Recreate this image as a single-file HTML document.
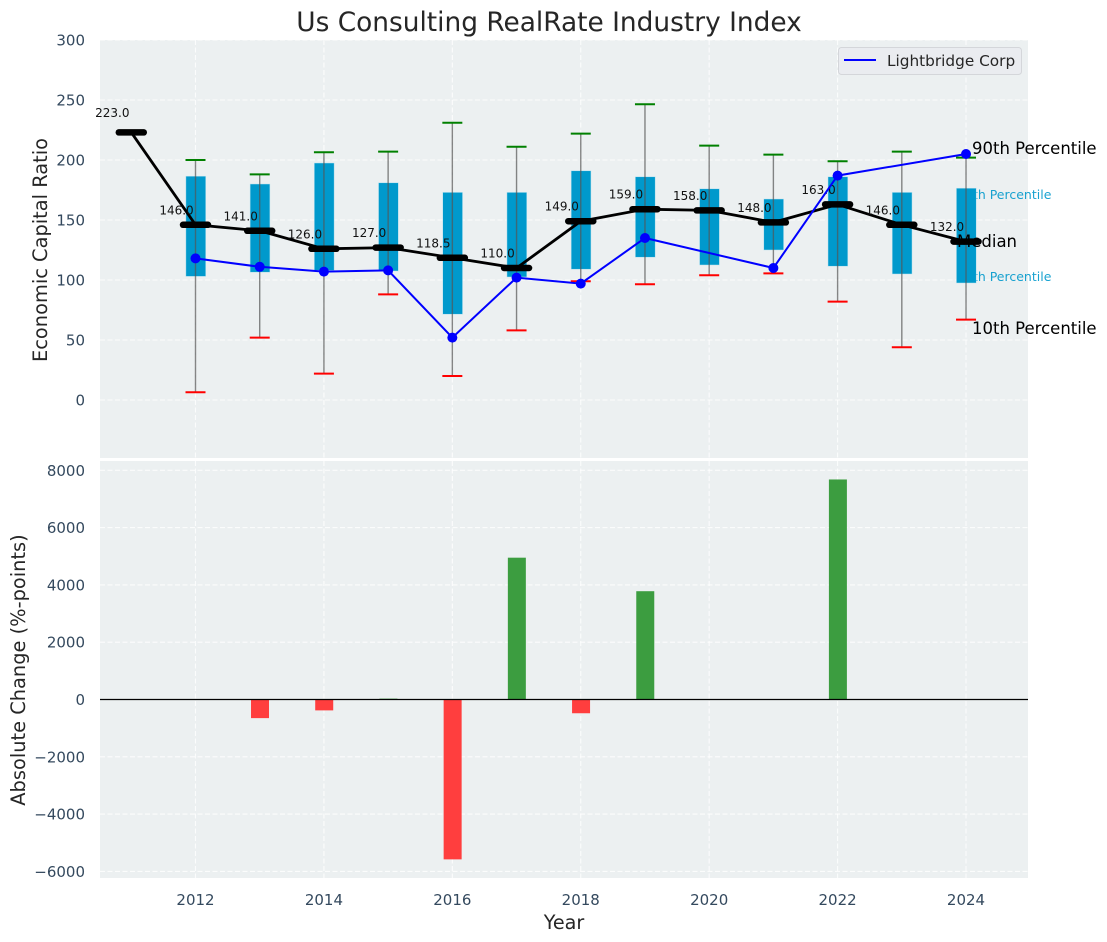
<!DOCTYPE html>
<html>
<head>
<meta charset="utf-8">
<title>Us Consulting RealRate Industry Index</title>
<style>
html,body{margin:0;padding:0;background:#fff;width:1107px;height:942px;overflow:hidden}
svg{display:block}
text{font-family:"DejaVu Sans","Liberation Sans",sans-serif}
</style>
</head>
<body>
<svg id="chart" xmlns="http://www.w3.org/2000/svg" width="1107" height="942" viewBox="0 0 1107 942"></svg>
<script>
const years = [2011,2012,2013,2014,2015,2016,2017,2018,2019,2020,2021,2022,2023,2024];
const medianValues = [223,146,141,126,127,118.5,110,149,159,158,148,163,146,132];
const p90Values = [null,200,188,206.5,207,231,211,222,246.5,212,204.5,199,207,202];
const p75Values = [null,186.5,180,197.5,181,173,173,191,186,176,167.5,186,173,176.5];
const p25Values = [null,103,106.5,108,107.5,71.5,102.5,109,119,112.5,125,111.5,105,97.5];
const p10Values = [null,6.5,52,22,88,20,58,99,96.5,104,105.5,82,44,67];
const companyValues = [null,118,111,107,108,52,102,97,135,null,110,187,null,205];
const changeValues = [null,null,-650,-380,30,-5580,4950,-480,3780,null,null,7680,null,null];
const topTicks = [0,50,100,150,200,250,300];
const bottomTicks = [-6000,-4000,-2000,0,2000,4000,6000,8000];
const xTicks = [2012,2014,2016,2018,2020,2022,2024];

const svg = document.getElementById('chart');
const NS = 'http://www.w3.org/2000/svg';
const px = { left: 100, right: 1028, topA: 40, topB: 458, botA: 461, botB: 878 };
const xScale = v => 195.5 + (v - 2012) * 64.21;
const yTop = v => 400 - v * 1.2;
const yBot = v => 699.5 - v * 0.02865;

function make(tag, attrs, name, text) {
  const el = document.createElementNS(NS, tag);
  for (const k in attrs) el.setAttribute(k, attrs[k]);
  
  
  if (text !== undefined) el.textContent = text;
  svg.appendChild(el);
  return el;
}
function line(x1, y1, x2, y2, stroke, width, name, extra) {
  return make('line', Object.assign({ x1, y1, x2, y2, stroke, 'stroke-width': width }, extra || {}), name);
}
function label(x, y, str, size, fill, anchor, name, extra) {
  return make('text', Object.assign({ x, y, 'font-size': size, fill, 'text-anchor': anchor }, extra || {}), name, str);
}

/* panels */
make('rect', { x: px.left, y: px.topA, width: px.right - px.left, height: px.topB - px.topA, fill: '#ecf0f1' }, 'top-panel-background');
make('rect', { x: px.left, y: px.botA, width: px.right - px.left, height: px.botB - px.botA, fill: '#ecf0f1' }, 'bottom-panel-background');

/* grid */
const dash = { 'stroke-dasharray': '5 2.5', opacity: 0.8 };
topTicks.forEach(t => {
  line(px.left, yTop(t), px.right, yTop(t), '#fff', 1.1, 'top-grid-line-y', dash);
  label(85, yTop(t) + 5.5, String(t), 15, '#34495e', 'end', 'top-y-tick-label');
});
bottomTicks.forEach(t => {
  line(px.left, yBot(t), px.right, yBot(t), '#fff', 1.1, 'bottom-grid-line-y', dash);
  label(85, yBot(t) + 5.5, String(t).replace('-', '\u2212'), 15, '#34495e', 'end', 'bottom-y-tick-label');
});
xTicks.forEach(t => {
  line(xScale(t), px.topA, xScale(t), px.topB, '#fff', 1.1, 'top-grid-line-x', dash);
  line(xScale(t), px.botA, xScale(t), px.botB, '#fff', 1.1, 'bottom-grid-line-x', dash);
  label(xScale(t), 905, String(t), 15, '#34495e', 'middle', 'x-tick-label');
});

/* percentile annotations sit behind the boxes */
const lastX = xScale(2024);
label(lastX - 9, 199, '75th Percentile', 12.5, '#0099cc', 'start', 'p75-annotation', { opacity: 0.9 });
label(lastX - 9, 281, '25th Percentile', 12.5, '#0099cc', 'start', 'p25-annotation', { opacity: 0.9 });

/* boxes */
years.forEach((yr, i) => {
  if (p75Values[i] === null) return;
  const top = yTop(p75Values[i]);
  const bottom = yTop(p25Values[i]);
  make('rect', { x: xScale(yr) - 9.6, y: top, width: 19.8, height: bottom - top, fill: '#0099cc', stroke: '#b9e2ef', 'stroke-width': 0.5 }, 'percentile-box-' + yr);
});

/* whiskers and caps */
years.forEach((yr, i) => {
  if (p90Values[i] === null) return;
  const x = xScale(yr);
  line(x, yTop(p90Values[i]), x, yTop(p10Values[i]), '#555', 1.4, 'whisker-' + yr, { opacity: 0.7 });
  line(x - 10, yTop(p90Values[i]), x + 10, yTop(p90Values[i]), '#008000', 2, 'p90-cap-' + yr);
  line(x - 10, yTop(p10Values[i]), x + 10, yTop(p10Values[i]), '#ff0000', 2, 'p10-cap-' + yr);
});

/* black annotations */
label(972, 154, '90th Percentile', 16.5, '#000', 'start', 'p90-annotation');
label(957, 247, 'Median', 16.5, '#000', 'start', 'median-annotation');
label(972, 334, '10th Percentile', 16.5, '#000', 'start', 'p10-annotation');

/* median line */
make('polyline', {
  points: years.map((yr, i) => xScale(yr) + ',' + yTop(medianValues[i])).join(' '),
  fill: 'none', stroke: '#000', 'stroke-width': 2.8
}, 'median-line');
years.forEach((yr, i) => {
  const x = xScale(yr), y = yTop(medianValues[i]);
  line(x - 12.5, y, x + 12.5, y, '#000', 6.5, 'median-marker-' + yr, { 'stroke-linecap': 'round' });
  label(x - 19, y - (i === 0 ? 15.5 : 10.5), medianValues[i].toFixed(1), 12, '#111', 'middle', 'median-value-' + yr);
});

/* company line */
const companyPoints = years.map((yr, i) => [yr, companyValues[i]]).filter(p => p[1] !== null);
make('polyline', {
  points: companyPoints.map(p => xScale(p[0]) + ',' + yTop(p[1])).join(' '),
  fill: 'none', stroke: '#0000ff', 'stroke-width': 2
}, 'lightbridge-corp-line');
companyPoints.forEach(p => {
  make('circle', { cx: xScale(p[0]), cy: yTop(p[1]), r: 5, fill: '#0000ff' }, 'lightbridge-point-' + p[0]);
});

/* change bars */
years.forEach((yr, i) => {
  const v = changeValues[i];
  if (v === null) return;
  const y0 = yBot(0), y1 = yBot(v);
  make('rect', {
    x: xScale(yr) - 8.7, y: Math.min(y0, y1), width: 18, height: Math.abs(y1 - y0),
    fill: v >= 0 ? '#3c9d40' : '#ff3e3e'
  }, 'change-bar-' + yr);
});
line(px.left, yBot(0), px.right, yBot(0), '#000', 1.2, 'zero-line');

/* legend */
make('rect', { x: 838.5, y: 47.5, width: 183, height: 27, rx: 3, fill: '#eaecf0', stroke: '#d4d6da', 'stroke-width': 1 }, 'legend-box');
line(844, 60, 876, 60, '#0000ff', 2, 'legend-line');
label(887, 66, 'Lightbridge Corp', 15.3, '#262626', 'start', 'legend-label');

/* titles */
label(549, 31, 'Us Consulting RealRate Industry Index', 26.4, '#262626', 'middle', 'chart-title');
label(564, 929, 'Year', 19.2, '#262626', 'middle', 'x-axis-title');
label(47, 250, 'Economic Capital Ratio', 19.4, '#262626', 'middle', 'top-y-axis-title', { transform: 'rotate(-90 47 250)' });
label(25, 670, 'Absolute Change (%-points)', 19.4, '#262626', 'middle', 'bottom-y-axis-title', { transform: 'rotate(-90 25 670)' });
</script>
</body>
</html>
